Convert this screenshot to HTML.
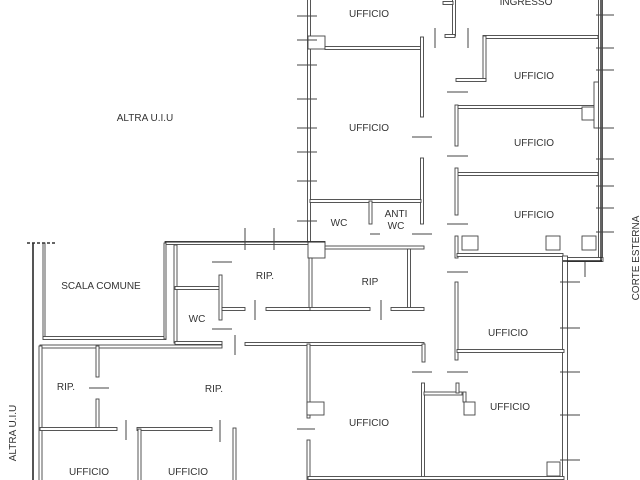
<!DOCTYPE html>
<html><head><meta charset="utf-8"><style>
html,body{margin:0;padding:0;background:#fff;width:640px;height:480px;overflow:hidden}
svg text{font-family:"Liberation Sans",sans-serif;font-size:10px;fill:#333;text-anchor:middle}
</style></head><body>
<svg width="640" height="480" viewBox="0 0 640 480" xmlns="http://www.w3.org/2000/svg">
<g fill="#fff" stroke="#444" stroke-width="0.9">
<rect x="307.5" y="-2" width="3" height="246"/>
<rect x="308" y="36" width="17" height="13"/>
<rect x="325" y="46.5" width="96" height="3"/>
<rect x="420.5" y="37" width="3" height="80"/>
<rect x="420.5" y="158" width="3" height="66"/>
<rect x="452.5" y="-2" width="3" height="38"/>
<rect x="445" y="34.5" width="10" height="3"/>
<rect x="443" y="1.5" width="10" height="3"/>
<rect x="483" y="35.5" width="115" height="3"/>
<rect x="483" y="36" width="3" height="45"/>
<rect x="456" y="78.5" width="30" height="3"/>
<rect x="456" y="105.5" width="140" height="3"/>
<rect x="455" y="105" width="3" height="41"/>
<rect x="582" y="107" width="14" height="13"/>
<rect x="594" y="82" width="5" height="46"/>
<rect x="456" y="172.5" width="142" height="3"/>
<rect x="455" y="168" width="3" height="47"/>
<rect x="310" y="199.5" width="111" height="3"/>
<rect x="369" y="201" width="3" height="23"/>
<rect x="598.5" y="-2" width="4" height="262"/>
<rect x="165" y="241.5" width="160" height="3"/>
<rect x="308" y="242" width="17" height="16"/>
<rect x="455" y="236" width="3" height="22"/>
<rect x="462" y="236" width="16" height="14"/>
<rect x="546" y="236" width="14" height="14"/>
<rect x="582" y="236" width="14" height="14"/>
<rect x="457" y="253.5" width="106" height="3"/>
<rect x="563" y="257.5" width="40" height="4"/>
<rect x="562.5" y="256" width="5" height="226"/>
<rect x="325" y="246" width="99" height="3"/>
<rect x="309" y="258" width="3" height="52"/>
<rect x="407.5" y="249" width="3" height="60"/>
<rect x="290" y="307.5" width="80" height="3"/>
<rect x="391" y="307.5" width="33" height="3"/>
<rect x="245" y="342.5" width="179" height="3"/>
<rect x="422" y="344" width="3" height="18"/>
<rect x="307" y="344" width="3" height="74"/>
<rect x="307" y="440" width="3" height="42"/>
<rect x="307" y="402" width="17" height="13"/>
<rect x="455" y="282" width="3" height="78"/>
<rect x="457" y="349.5" width="107" height="3"/>
<rect x="421.5" y="383" width="3" height="99"/>
<rect x="424" y="392" width="38" height="3"/>
<rect x="456" y="383" width="3" height="10"/>
<rect x="463" y="392" width="3" height="10"/>
<rect x="464" y="402" width="11" height="13"/>
<rect x="547" y="462" width="13" height="14"/>
<rect x="308" y="476.5" width="256" height="3"/>
<rect x="32" y="243" width="2" height="240" stroke="none" fill="#555"/>
<rect x="43" y="243" width="2" height="96"/>
<rect x="43" y="336.5" width="123" height="3"/>
<rect x="164" y="243" width="2" height="96"/>
<rect x="174" y="245" width="3" height="98"/>
<rect x="175" y="286.5" width="45" height="3"/>
<rect x="219" y="275" width="3" height="45"/>
<rect x="222" y="307.5" width="23" height="3"/>
<rect x="266" y="307.5" width="44" height="3"/>
<rect x="175" y="341.5" width="47" height="3"/>
<rect x="40" y="345" width="182" height="3"/>
<rect x="39" y="346" width="3" height="136"/>
<rect x="96" y="346" width="3" height="31"/>
<rect x="96" y="399" width="3" height="31"/>
<rect x="40" y="427.5" width="77" height="3"/>
<rect x="137" y="427.5" width="75" height="3"/>
<rect x="138" y="429" width="3" height="53"/>
<rect x="233" y="428" width="3" height="54"/>
</g>
<g stroke="#222" stroke-width="1.4" fill="none">
<line x1="165" y1="242" x2="325" y2="242" stroke-width="1"/>
<line x1="601" y1="0" x2="601" y2="261"/>
<line x1="563" y1="261" x2="602" y2="261"/>
</g>
<g stroke="#444" stroke-width="1">
<line x1="435" y1="28" x2="435" y2="48"/><line x1="468" y1="28" x2="468" y2="48"/>
<line x1="447" y1="92" x2="468" y2="92"/><line x1="412" y1="137" x2="432" y2="137"/>
<line x1="447" y1="156" x2="468" y2="156"/><line x1="447" y1="224" x2="468" y2="224"/>
<line x1="370" y1="234" x2="380" y2="234"/><line x1="412" y1="234" x2="432" y2="234"/>
<line x1="381" y1="300" x2="381" y2="320"/><line x1="447" y1="272" x2="468" y2="272"/>
<line x1="412" y1="372" x2="432" y2="372"/><line x1="447" y1="372" x2="468" y2="372"/>
<line x1="297" y1="429" x2="315" y2="429"/>
<line x1="212" y1="262" x2="232" y2="262"/><line x1="255" y1="300" x2="255" y2="320"/>
<line x1="212" y1="329" x2="232" y2="329"/><line x1="235" y1="335" x2="235" y2="355"/>
<line x1="89" y1="388" x2="109" y2="388"/><line x1="126" y1="420" x2="126" y2="440"/>
<line x1="220" y1="420" x2="220" y2="442"/>
<line x1="245" y1="228" x2="245" y2="250"/><line x1="274" y1="228" x2="274" y2="250"/>
<line x1="585" y1="262" x2="585" y2="277"/>
<line x1="297" y1="16" x2="317" y2="16"/><line x1="297" y1="40" x2="317" y2="40"/>
<line x1="297" y1="65" x2="317" y2="65"/><line x1="297" y1="99" x2="317" y2="99"/>
<line x1="297" y1="128" x2="317" y2="128"/><line x1="297" y1="152" x2="317" y2="152"/>
<line x1="297" y1="181" x2="317" y2="181"/><line x1="297" y1="221" x2="317" y2="221"/>
<line x1="596" y1="15" x2="614" y2="15"/><line x1="596" y1="48" x2="614" y2="48"/>
<line x1="596" y1="70" x2="614" y2="70"/><line x1="596" y1="128" x2="614" y2="128"/>
<line x1="596" y1="159" x2="614" y2="159"/><line x1="596" y1="186" x2="614" y2="186"/>
<line x1="596" y1="208" x2="614" y2="208"/><line x1="596" y1="232" x2="614" y2="232"/>
<line x1="560" y1="282" x2="580" y2="282"/><line x1="560" y1="328" x2="580" y2="328"/>
<line x1="560" y1="372" x2="580" y2="372"/><line x1="560" y1="415" x2="580" y2="415"/>
<line x1="560" y1="460" x2="580" y2="460"/>
</g>
<line x1="27" y1="243" x2="56" y2="243" stroke="#333" stroke-width="1.5" stroke-dasharray="3,2"/>
<text x="369" y="17">UFFICIO</text>
<text x="526" y="5">INGRESSO</text>
<text x="534" y="79">UFFICIO</text>
<text x="145" y="121">ALTRA U.I.U</text>
<text x="369" y="131">UFFICIO</text>
<text x="534" y="146">UFFICIO</text>
<text x="534" y="218">UFFICIO</text>
<text x="339" y="226">WC</text>
<text x="396" y="217">ANTI</text>
<text x="396" y="229">WC</text>
<text x="265" y="279">RIP.</text>
<text x="370" y="285">RIP</text>
<text x="101" y="289">SCALA COMUNE</text>
<text x="197" y="322">WC</text>
<text x="508" y="336">UFFICIO</text>
<text x="66" y="390">RIP.</text>
<text x="214" y="392">RIP.</text>
<text x="510" y="410">UFFICIO</text>
<text x="369" y="426">UFFICIO</text>
<text x="89" y="475">UFFICIO</text>
<text x="188" y="475">UFFICIO</text>
<text transform="translate(16,433) rotate(-90)">ALTRA U.I.U</text>
<text transform="translate(639,258) rotate(-90)">CORTE ESTERNA</text>
</svg>
</body></html>
